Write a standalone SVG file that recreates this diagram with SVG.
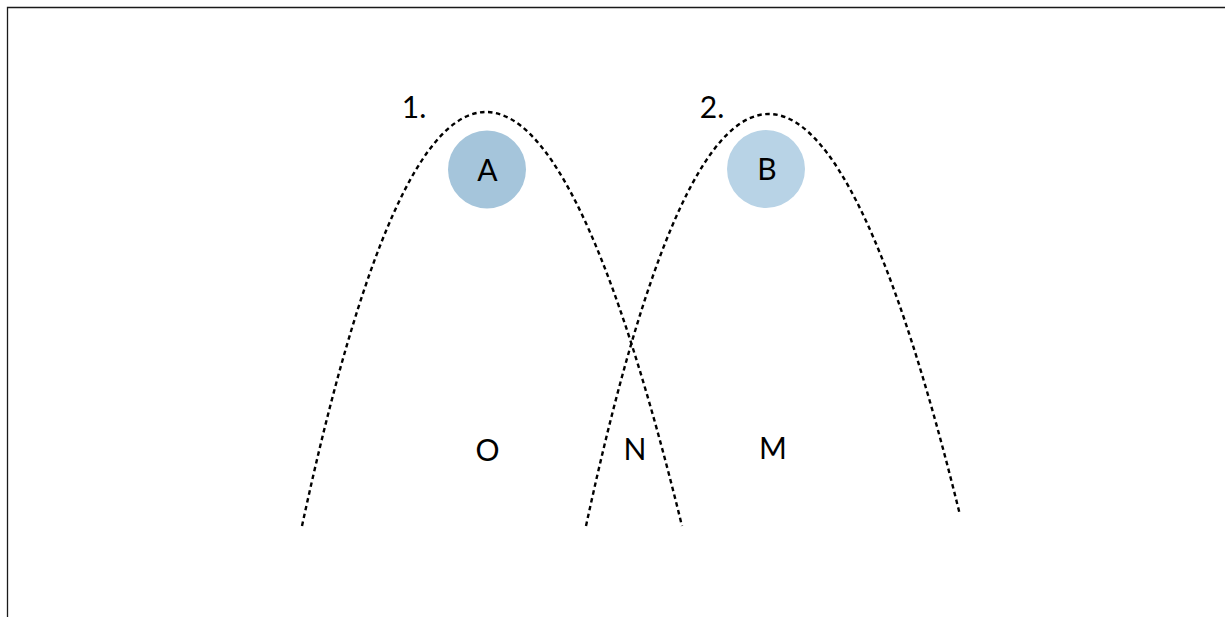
<svg xmlns="http://www.w3.org/2000/svg" width="1225" height="617" viewBox="0 0 1225 617">
<style>
.frame{stroke:#1a1a1a;stroke-width:1.3;fill:none}
.curve{fill:none;stroke:#000;stroke-width:2.4;stroke-dasharray:4.5 3.5}
.lbl{font-family:Lato,"Open Sans","Liberation Sans",sans-serif;font-size:30px;fill:#000;text-anchor:middle}
</style>
<rect width="1225" height="617" fill="#fff"/>
<path class="frame" d="M7.5,617 V7.5 H1225"/>
<g id="connectors">
<path id="curve1" class="curve" d="M302,526 C421,-26 547,-26 682,526"/>
<path id="curve2" class="curve" d="M586,526 C704,-21.5 828,-21.5 960,515"/>
</g>
<g id="node-A">
<circle cx="487" cy="169.5" r="39" fill="#a5c5db"/>
<text class="lbl" x="487.5" y="181">A</text>
</g>
<g id="node-B">
<circle cx="766" cy="169" r="39" fill="#b8d3e6"/>
<text class="lbl" x="767" y="179.5">B</text>
</g>
<g id="label-1"><text class="lbl" x="414" y="118">1.</text></g>
<g id="label-2"><text class="lbl" x="712" y="118">2.</text></g>
<g id="label-O"><text class="lbl" x="487.5" y="461">O</text></g>
<g id="label-N"><text class="lbl" x="635" y="460">N</text></g>
<g id="label-M"><text class="lbl" x="773" y="459">M</text></g>
</svg>
